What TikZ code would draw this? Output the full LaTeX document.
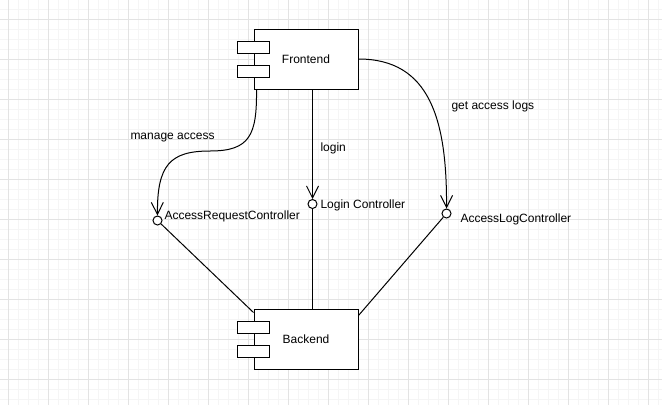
\documentclass[tikz,border=0pt]{standalone}
\usepackage{fontspec}
\setmainfont{Liberation Sans}
\usepackage{tikz}
\usetikzlibrary{arrows.meta}
\tikzset{>={Straight Barb[length=12pt,width=12pt]}}

\begin{document}
\begin{tikzpicture}[x=1pt, y=-1pt, font=\fontsize{12}{14}\selectfont]
	\useasboundingbox (0,0) rectangle (662,405);
	% grid
	\foreach \gx in {-1.7,8.3,...,662} \draw[black!4,line width=0.8pt] (\gx,0) -- (\gx,405);
	\foreach \gy in {-0.7,9.3,...,405} \draw[black!4,line width=0.8pt] (0,\gy) -- (662,\gy);
	\foreach \gx in {8.3,48.3,...,662} \draw[black!11,line width=0.8pt] (\gx,0) -- (\gx,405);
	\foreach \gy in {19.3,59.3,...,405} \draw[black!11,line width=0.8pt] (0,\gy) -- (662,\gy);
	\begin{scope}[line width=1pt]
			\node (front) at (306,59) [draw,fill=white,minimum width=104pt,minimum height=60pt] {Frontend};
			\node (back) at (306,339) [draw,fill=white,minimum width=104pt,minimum height=60pt] {Backend};
			\foreach \c in {front,back} {
				\draw[fill=white] ([xshift=-16pt,yshift=6pt]\c.west) rectangle ([xshift=16pt,yshift=18pt]\c.west);
				\draw[fill=white] ([xshift=-16pt,yshift=-6pt]\c.west) rectangle ([xshift=16pt,yshift=-18pt]\c.west);
			}
			\node (arc) at (157.5,220.5) [circle,draw,fill=white,inner sep=0pt,minimum size=9pt] {};
			\node (lc) at (312.5,204) [circle,draw,fill=white,inner sep=0pt,minimum size=9pt] {};
			\node (alc) at (446.5,213.5) [circle,draw,fill=white,inner sep=0pt,minimum size=9pt] {};
			\node (arctext) at (164,216) [anchor=west,inner sep=0pt] {AccessRequestController};
			\node (lctext) at (320,205) [anchor=west,inner sep=0pt] {Login Controller};
			\node (alctext) at (460,219) [anchor=west,inner sep=0pt] {AccessLogController};
			\node (manage) at (130,138) [anchor=west,inner sep=0pt] {manage access};
			\node (login) at (320,148) [anchor=west,inner sep=0pt] {login};
			\node (getlogs) at (451,106) [anchor=west,inner sep=0pt] {get access logs};
			\draw[->] ([xshift=3pt]front.south west) .. controls (257,135) and (250,151) .. (210,151) .. controls (170,151) and (157,165) .. (arc);
			\draw[->] (front.south -| lc) to (lc);
			\draw[->] (front.east) .. controls (430,59) and (447,120) .. (alc);
			\draw (arc) to ([yshift=-4pt]back.north west);
			\draw (lc) to (lc |- back.north);
			\draw (alc) to ([yshift=-7pt]back.north east);
	\end{scope}
\end{tikzpicture}
\end{document}
